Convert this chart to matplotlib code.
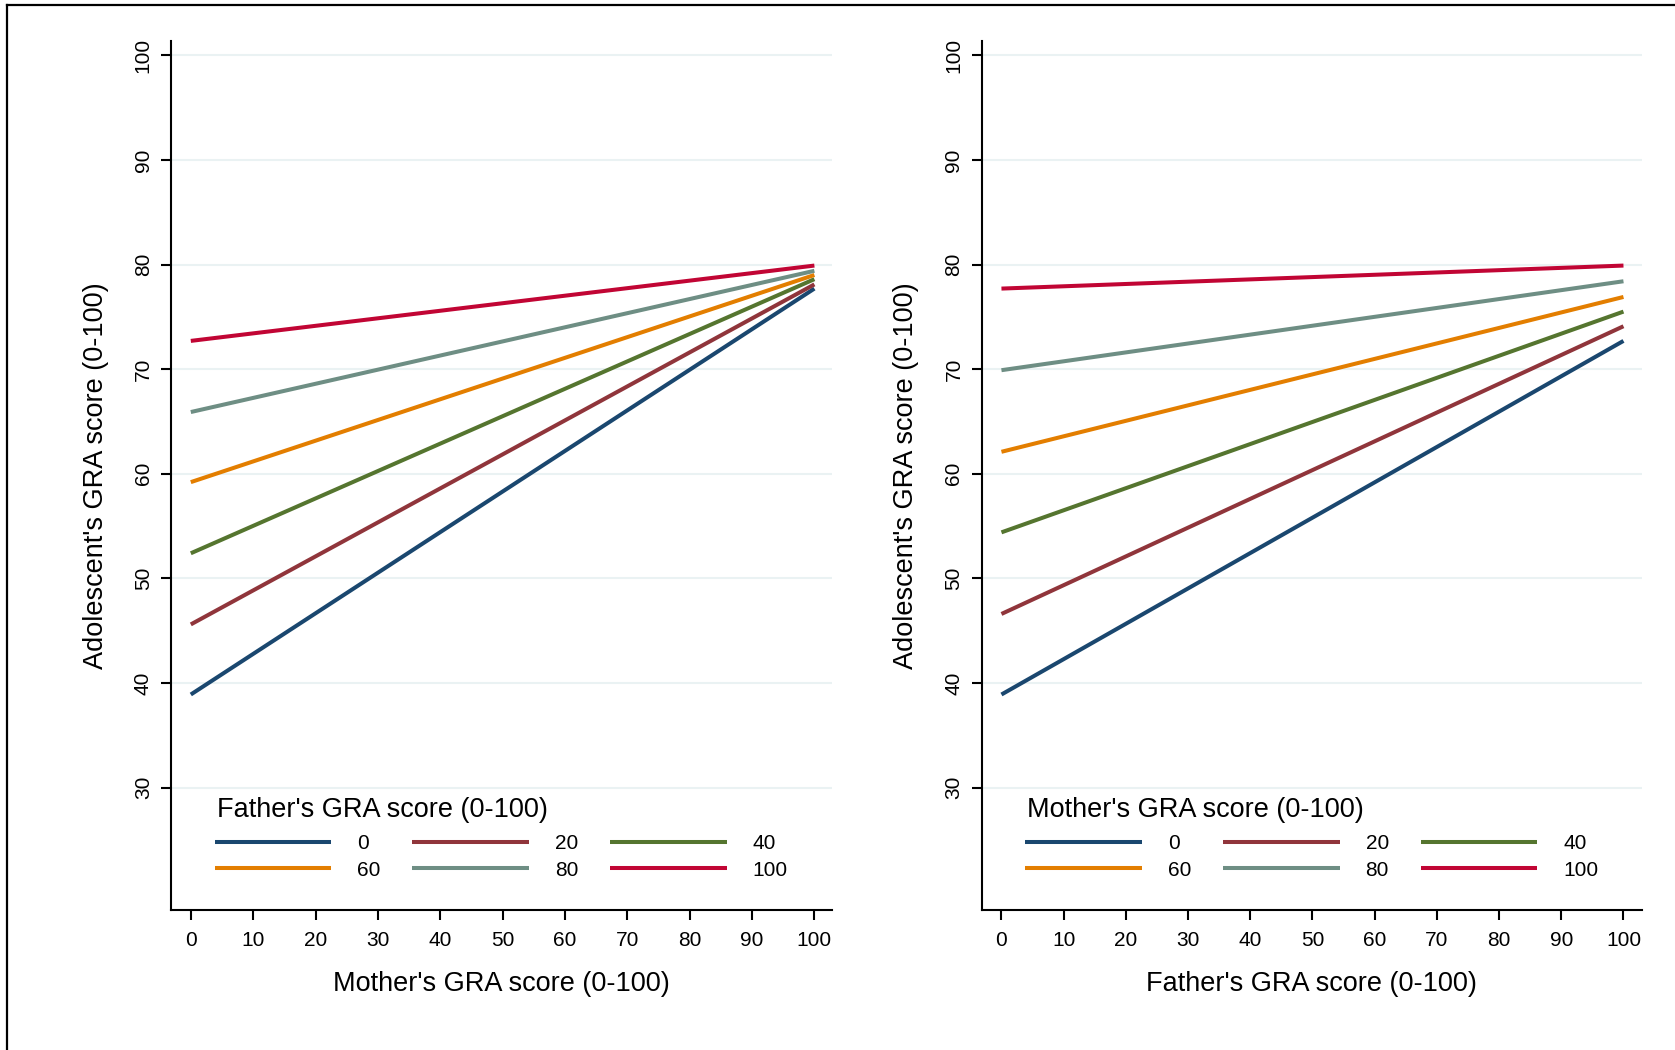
import matplotlib
matplotlib.use("Agg")
import matplotlib.pyplot as plt
from matplotlib.lines import Line2D

plt.rcParams['font.family'] = ['Liberation Sans', 'DejaVu Sans']

# Data (predicted scores at x = 0 and x = 100)
x_points = [0, 100]
levels = ["0", "20", "40", "60", "80", "100"]

# Left panel: x = Mother's score, lines = Father's score level
left_start = [38.9, 45.6, 52.4, 59.2, 65.9, 72.7]
left_end = [77.7, 78.1, 78.6, 79.0, 79.4, 79.9]

# Right panel: x = Father's score, lines = Mother's score level
right_start = [38.9, 46.6, 54.4, 62.1, 69.9, 77.7]
right_end = [72.7, 74.1, 75.5, 76.9, 78.4, 79.9]

colors = ["#1a476f", "#90353b", "#55752f", "#e37e00", "#6e8e84", "#c10534"]

x_ticks = list(range(0, 101, 10))
y_ticks = list(range(30, 101, 10))


def draw_panel(ax, starts, ends, xlabel, legend_title):
    for s, e, c, lab in zip(starts, ends, colors, levels):
        ax.plot(x_points, [s, e], color=c, lw=2.9, label=lab, solid_capstyle='butt')

    ax.set_xlim(-3.2, 102.9)
    ax.set_ylim(18.3, 101.4)
    ax.set_xticks(x_ticks)
    ax.set_yticks(y_ticks)
    ax.yaxis.grid(True, color="#eaf2f3", lw=1.5)
    ax.set_axisbelow(True)

    for side in ["top", "right"]:
        ax.spines[side].set_visible(False)
    for side in ["left", "bottom"]:
        ax.spines[side].set_linewidth(1.5)
        ax.spines[side].set_color("black")

    ax.tick_params(axis='both', direction='out', length=7, width=1.5, labelsize=15)
    ax.tick_params(axis='x', pad=8)
    ax.tick_params(axis='y', pad=6)
    for lbl in ax.get_yticklabels():
        lbl.set_rotation(90)
        lbl.set_va('center')

    ax.set_xlabel(xlabel, fontsize=19.5, labelpad=15)
    ax.set_ylabel("Adolescent's GRA score (0-100)", fontsize=19.5, labelpad=18)

    # legend title drawn as text, legend filled row-wise: 0 20 40 / 60 80 100
    ax.text(0.0696, 0.1155, legend_title, transform=ax.transAxes,
            fontsize=19.5, ha='left', va='center')
    handles, labels = ax.get_legend_handles_labels()
    order = [0, 3, 1, 4, 2, 5]
    leg = ax.legend([handles[i] for i in order], [labels[i] for i in order],
                    ncol=3, loc='upper left', bbox_to_anchor=(0.066, 0.0875),
                    frameon=False, fontsize=15,
                    handlelength=5.6, handletextpad=1.25, columnspacing=1.52,
                    labelspacing=0.37, borderpad=0, borderaxespad=0)
    return leg


fig = plt.figure(figsize=(16.75, 10.5), dpi=100)
ax1 = fig.add_axes([0.102, 0.1333, 0.395, 0.828])
ax2 = fig.add_axes([0.586, 0.1333, 0.394, 0.828])

draw_panel(ax1, left_start, left_end, "Mother's GRA score (0-100)", "Father's GRA score (0-100)")
draw_panel(ax2, right_start, right_end, "Father's GRA score (0-100)", "Mother's GRA score (0-100)")

# outer frame (only top and left edges visible in the reference)
fig.add_artist(Line2D([7 / 1675, 7 / 1675], [0, 1 - 5 / 1050], transform=fig.transFigure,
                      color='black', lw=1.6))
fig.add_artist(Line2D([7 / 1675, 1], [1 - 5 / 1050, 1 - 5 / 1050], transform=fig.transFigure,
                      color='black', lw=1.6))

fig.savefig("out.png", dpi=100)
